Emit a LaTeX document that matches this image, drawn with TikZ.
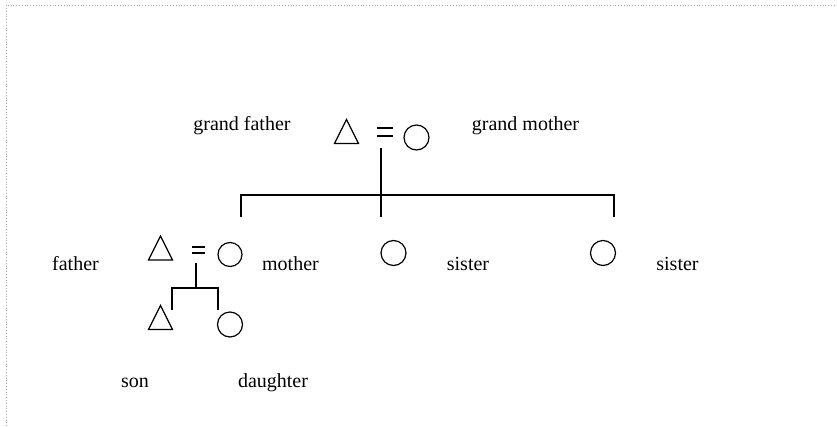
\documentclass[tikz,border=0pt]{standalone}
\usepackage{fontspec}
\setmainfont{Liberation Serif}
\usetikzlibrary{shapes.geometric}
\begin{document}
\begin{tikzpicture}[x=1pt,y=-1pt,
  line width=1.2pt,
  lbl/.style={anchor=base,inner sep=0pt,font=\fontsize{20}{24}\selectfont},
  fem/.style={circle,draw,inner sep=0pt,minimum size=#1},
  male/.style={isosceles triangle,draw,shape border rotate=90,isosceles triangle stretches,inner sep=0pt,minimum width=#1,minimum height=#1},
  border/.style={draw=gray!70,line width=0.8pt,dotted}]
\useasboundingbox (0,0) rectangle (837,426);
\draw[border] (6,426) -- (6,5) -- (837,5);
% generation 1
\node[male=24] (gf) at (346.5,136) {};
\node[fem=25] (gm) at (416.5,137.5) {};
\coordinate (e1a) at (377,128); \coordinate (e1b) at (393,128);
\coordinate (e1c) at (377,136); \coordinate (e1d) at (393,136);
\draw (e1a) -- (e1b); \draw (e1c) -- (e1d);
\node[lbl] (lgf) at (242,130) {grand father};
\node[lbl] (lgm) at (525.5,130) {grand mother};
\coordinate (d1top) at (381,148); \coordinate (d1bot) at (381,217);
\coordinate (hL) at (241,195); \coordinate (hR) at (614,195);
\coordinate (hLb) at (241,217); \coordinate (hRb) at (614,217);
\draw (d1top) -- (d1bot);
\draw (hLb) -- (hL) -- (hR) -- (hRb);
% generation 2
\node[male=24] (fa) at (160.5,252.5) {};
\node[fem=24] (mo) at (230,254.5) {};
\node[fem=25] (s1) at (393.5,253) {};
\node[fem=25] (s2) at (603,253) {};
\coordinate (e2a) at (192,247); \coordinate (e2b) at (205,247);
\coordinate (e2c) at (192,253); \coordinate (e2d) at (205,253);
\draw (e2a) -- (e2b); \draw (e2c) -- (e2d);
\node[lbl] (lfa) at (75.5,270) {father};
\node[lbl] (lmo) at (290.5,270) {mother};
\node[lbl] (ls1) at (468,270) {sister};
\node[lbl] (ls2) at (677.5,270) {sister};
\coordinate (d2top) at (196,263); \coordinate (d2j) at (196,288);
\coordinate (kL) at (172,288); \coordinate (kR) at (218,288);
\coordinate (kLb) at (172,310); \coordinate (kRb) at (218,310);
\draw (d2top) -- (d2j);
\draw (kLb) -- (kL) -- (kR) -- (kRb);
% generation 3
\node[male=24] (so) at (160.5,322) {};
\node[fem=25] (da) at (230,324.5) {};
\node[lbl] (lso) at (135,387) {son};
\node[lbl] (lda) at (273,387) {daughter};
\end{tikzpicture}
\end{document}
